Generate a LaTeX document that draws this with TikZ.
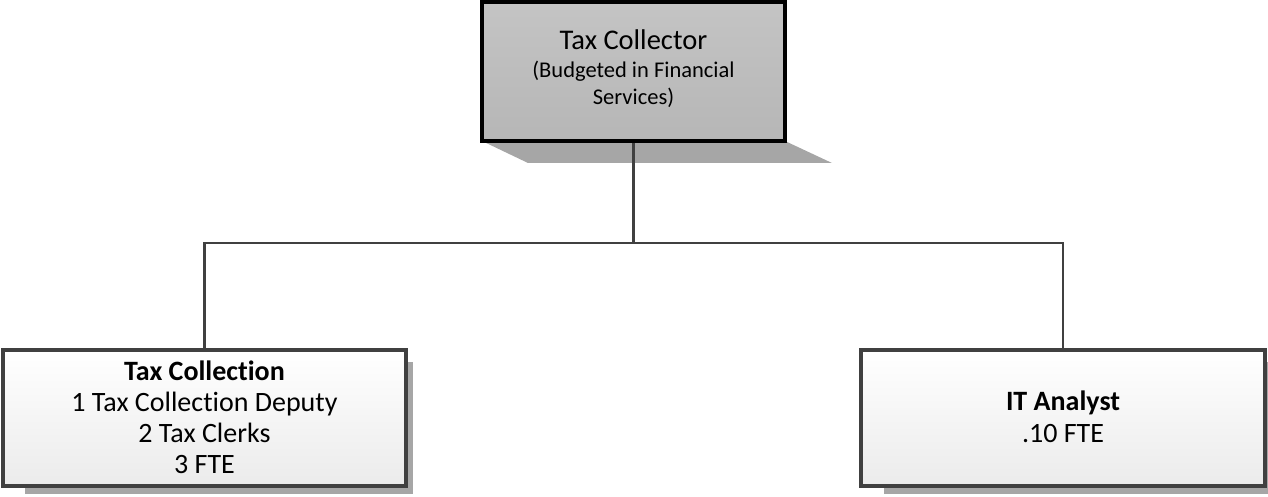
\documentclass[tikz,border=0pt]{standalone}
\usepackage{fontspec}
\setmainfont{Carlito}[Ligatures=CommonOff]
\definecolor{topA}{HTML}{C4C4C4}
\definecolor{topB}{HTML}{B6B6B6}
\definecolor{shadowc}{HTML}{A6A6A6}
\definecolor{boxline}{HTML}{404040}
\definecolor{boxB}{HTML}{EBEBEB}
\definecolor{connc}{HTML}{404040}
\begin{document}
\begin{tikzpicture}[x=1pt,y=-1pt,
  topbox/.style={draw=black,line width=4pt,top color=topA,bottom color=topB,
    minimum width=303pt,minimum height=139pt,inner sep=0pt},
  unitbox/.style={draw=boxline,line width=3.5pt,top color=white,bottom color=boxB,
    minimum height=136pt,inner sep=0pt},
  conn/.style={draw=connc,line width=2.5pt},
  shade/.style={fill=shadowc,draw=none},
  lbl/.style={anchor=base,inner sep=0pt,text=black}]
\useasboundingbox (0,0) rectangle (1268,497);
% shadows
\fill[shade] (482,141) -- (528,163) -- (832,163) -- (785,141) -- cycle;
\fill[shade] (25,362) rectangle (413,494);
\fill[shade] (884,362) rectangle (1268,494);
% boxes
\node[topbox] (top) at (633.5,71.5) {};
\node[unitbox,minimum width=403pt] (left) at (204.5,418) {};
\node[unitbox,minimum width=404pt] (right) at (1063,418) {};
% connectors
\coordinate (j) at (633.5,243);
\draw[conn] (top.south) -- (j);
\draw[conn] (left.north) -- (left.north |- j) -- (right.north |- j) -- (right.north);
% texts
\node[lbl,font=\fontsize{28.5}{30}\selectfont] (t1) at (633.5,50) {Tax Collector};
\node[lbl,font=\fontsize{22.5}{27}\selectfont] (t2) at (633.5,77.5) {(Budgeted in Financial};
\node[lbl,font=\fontsize{22.5}{27}\selectfont] (t3) at (633.5,105) {Services)};
\node[lbl,font=\bfseries\fontsize{28}{30}\selectfont] (l1) at (204.5,380) {Tax Collection};
\node[lbl,font=\fontsize{28}{30}\selectfont] (l2) at (204.5,411) {1 Tax Collection Deputy};
\node[lbl,font=\fontsize{28}{30}\selectfont] (l3) at (204.5,442) {2 Tax Clerks};
\node[lbl,font=\fontsize{28}{30}\selectfont] (l4) at (204.5,473) {3 FTE};
\node[lbl,font=\bfseries\fontsize{28}{30}\selectfont] (r1) at (1063,410) {IT Analyst};
\node[lbl,font=\fontsize{28}{30}\selectfont] (r2) at (1063,442) {.10 FTE};
\end{tikzpicture}
\end{document}
